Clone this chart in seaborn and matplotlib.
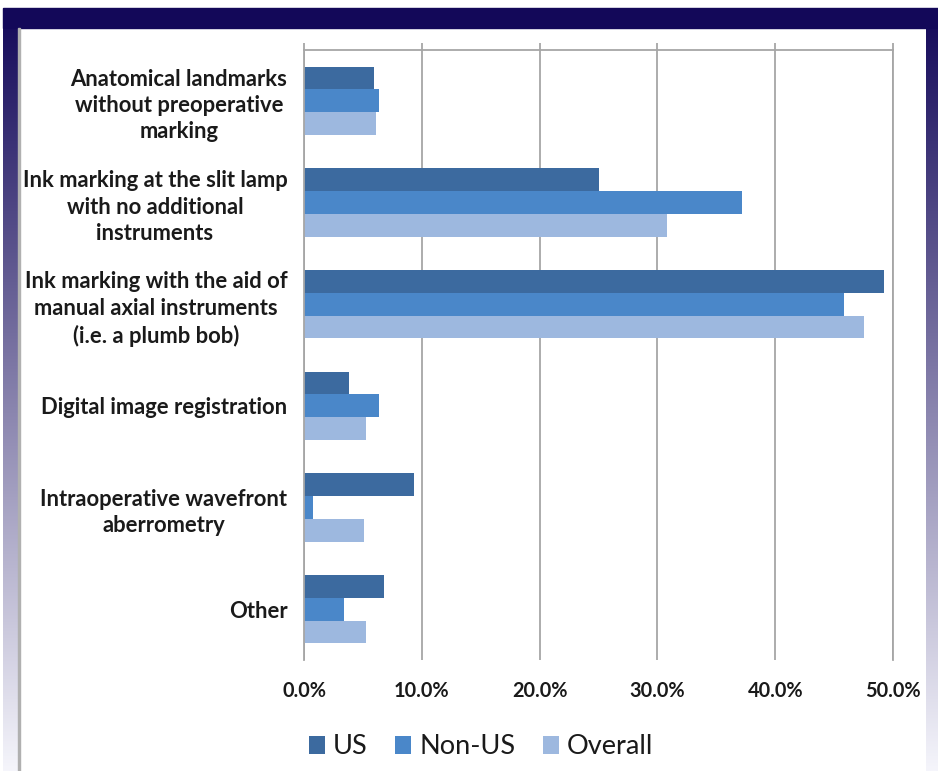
import numpy as np
import pandas as pd
import matplotlib
matplotlib.use("Agg")
import matplotlib.pyplot as plt
import seaborn as sns
from matplotlib.colors import LinearSegmentedColormap
from matplotlib.patches import Patch, Rectangle

categories = [
    "Anatomical landmarks\nwithout preoperative\nmarking",
    "Ink marking at the slit lamp\nwith no additional\ninstruments",
    "Ink marking with the aid of\nmanual axial instruments\n(i.e. a plumb bob)",
    "Digital image registration",
    "Intraoperative wavefront\naberrometry",
    "Other",
]
us = [5.9, 25.0, 49.2, 3.8, 9.3, 6.8]
non_us = [6.4, 37.2, 45.8, 6.4, 0.8, 3.4]
overall = [6.1, 30.8, 47.5, 5.3, 5.1, 5.3]
series = ["US", "Non-US", "Overall"]
colors = ["#3C6A9F", "#4A87C9", "#9DB8DF"]
tick_values = [0, 10, 20, 30, 40, 50]

rows = []
for s, vals in zip(series, [us, non_us, overall]):
    for c, v in zip(categories, vals):
        rows.append({"category": c, "series": s, "value": v})
df = pd.DataFrame(rows)

sns.set_theme(style="white")
plt.rcParams["font.family"] = ["Lato", "DejaVu Sans"]

W, H = 938, 771
fig = plt.figure(figsize=(W / 100, H / 100), dpi=100)
fig.patch.set_facecolor("white")

# background frame
bg = fig.add_axes([0, 0, 1, 1], zorder=-10)
bg.axis("off")
cmap = LinearSegmentedColormap.from_list("frame", ["#130859", "#F5F5FB"])
grad = np.linspace(0, 1, 256).reshape(-1, 1)
bg.imshow(grad, cmap=cmap, aspect="auto", extent=(3, 19, H, 8), zorder=1)
bg.imshow(grad, cmap=cmap, aspect="auto", extent=(926, W, H, 8), zorder=1)
bg.add_patch(Rectangle((3, 8), W - 3, 20, color="#130859", zorder=2))
bg.add_patch(Rectangle((18, 28), 2, H - 28, color="#B0B0B0", zorder=2))
bg.set_xlim(0, W)
bg.set_ylim(H, 0)

ax = fig.add_axes([304 / W, (H - 660) / H, (893 - 304) / W, (660 - 50) / H])
sns.barplot(data=df, x="value", y="category", hue="series", hue_order=series,
            palette=colors, orient="h", width=0.67, saturation=1,
            edgecolor="none", linewidth=0, ax=ax, legend=False)
ax.set_xlim(0, 50)
ax.set_xticks(tick_values)
ax.set_xticklabels([f"{v:.1f}%" for v in tick_values], fontsize=14.3,
                   fontweight="bold", color="#1a1a1a")
ax.set_xlabel("")
ax.set_ylabel("")
ax.grid(axis="x", color="#A6A6A6", lw=1.3)
ax.grid(axis="y", visible=False)
ax.set_axisbelow(True)
for side in ["top", "left", "right"]:
    ax.spines[side].set_visible(True)
    ax.spines[side].set_color("#A6A6A6")
    ax.spines[side].set_linewidth(1.3)
ax.spines["bottom"].set_visible(False)
ax.tick_params(axis="x", top=True, bottom=False, direction="out", length=5,
               width=1.3, color="#A6A6A6", labeltop=False, labelbottom=True, pad=10)
ax.tick_params(axis="y", length=0, pad=12)
for lbl in ax.get_yticklabels():
    lbl.set_fontsize(15.8)
    lbl.set_fontweight("bold")
    lbl.set_color("#1a1a1a")
    lbl.set_multialignment("center")
    lbl.set_linespacing(1.32)

handles = [Patch(facecolor=c, edgecolor="none") for c in colors]
fig.legend(handles, series, loc="center", bbox_to_anchor=(481 / W, 1 - 747 / H),
           ncol=3, frameon=False, fontsize=19.5, handlelength=0.6, handleheight=0.6,
           handletextpad=0.3, columnspacing=1.0, labelcolor="#1a1a1a")

fig.savefig("out.png", dpi=100, facecolor="white")
